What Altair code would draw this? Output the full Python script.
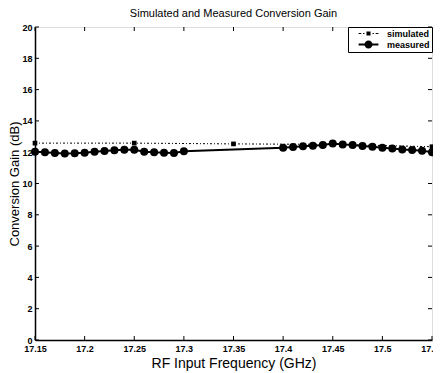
import altair as alt
import pandas as pd

# ---- data ----
meas_freq = [17.15, 17.16, 17.17, 17.18, 17.19, 17.20, 17.21, 17.22, 17.23, 17.24,
             17.25, 17.26, 17.27, 17.28, 17.29, 17.30,
             17.40, 17.41, 17.42, 17.43, 17.44, 17.45, 17.46, 17.47, 17.48, 17.49,
             17.50, 17.51, 17.52, 17.53, 17.54, 17.55]
meas_gain = [12.03, 12.00, 11.95, 11.91, 11.93, 11.97, 12.03, 12.08, 12.12, 12.15,
             12.15, 12.03, 11.99, 11.97, 11.95, 12.06,
             12.29, 12.33, 12.38, 12.42, 12.46, 12.55, 12.50, 12.46, 12.40, 12.35,
             12.29, 12.23, 12.18, 12.14, 12.10, 12.00]
sim_freq = [17.15, 17.25, 17.35, 17.45, 17.55]
sim_gain = [12.58, 12.58, 12.53, 12.50, 12.35]

x_ticks = [17.15, 17.2, 17.25, 17.3, 17.35, 17.4, 17.45, 17.5, 17.55]
y_ticks = [0, 2, 4, 6, 8, 10, 12, 14, 16, 18, 20]
series_names = ["simulated", "measured"]

W, H = 397, 313
FONT = "Liberation Sans"

meas = pd.DataFrame({"f": meas_freq, "g": meas_gain})
sim = pd.DataFrame({"f": sim_freq, "g": sim_gain})
xt = pd.DataFrame({"f": x_ticks})
yt = pd.DataFrame({"g": y_ticks})
leg = pd.DataFrame({"s": series_names})

xs = alt.Scale(domain=[17.15, 17.55], nice=False, zero=False)
ys = alt.Scale(domain=[0, 20], nice=False, zero=False)

xax = alt.Axis(values=x_ticks, title="RF Input Frequency (GHz)", grid=False,
               ticks=False, tickSize=0, labelPadding=4, labelFontSize=9,
               labelFontWeight="bold", labelFont=FONT, labelColor="black",
               labelBound=False, labelFlush=False, labelOverlap=False,
               format=".2~f",
               titleFontSize=14, titleFont=FONT, titleFontWeight="normal",
               titleColor="black", titlePadding=3,
               domainColor="black", domainWidth=1.5)
yax = alt.Axis(values=y_ticks, title="Conversion Gain (dB)", grid=False,
               ticks=False, tickSize=0, labelPadding=3, labelFontSize=9,
               labelFontWeight="bold", labelFont=FONT, labelColor="black",
               labelOverlap=False, labelBound=False, labelFlush=False,
               titleFontSize=13, titleFont=FONT, titleFontWeight="normal",
               titleColor="black", titlePadding=0,
               domainColor="black", domainWidth=1.5)

X = alt.X("f:Q", scale=xs, axis=xax)
Y = alt.Y("g:Q", scale=ys, axis=yax)

sim_line = alt.Chart(sim).mark_line(color="black", strokeWidth=1,
                                    strokeDash=[2, 2, 1, 2]).encode(x=X, y=Y)
sim_pts = alt.Chart(sim).mark_point(shape="square", filled=True, color="black",
                                    size=22, opacity=1).encode(x=X, y=Y)
meas_line = alt.Chart(meas).mark_line(color="black", strokeWidth=2).encode(x=X, y=Y)
meas_pts = alt.Chart(meas).mark_circle(color="black", size=64, opacity=1).encode(x=X, y=Y)

# legend symbols (unit = 4.5 px for symbolSize 81)
path_sim = ("M-2.2,-0.13H-1.6V0.13H-2.2Z M-1.2,-0.13H-0.9V0.13H-1.2Z "
            "M-0.45,-0.45H0.45V0.45H-0.45Z "
            "M0.9,-0.13H1.2V0.13H0.9Z M1.6,-0.13H2.2V0.13H1.6Z")
path_meas = ("M-2.2,-0.22H2.2V0.22H-2.2Z "
             "M-0.9,0A0.9,0.9,0,1,1,0.9,0A0.9,0.9,0,1,1,-0.9,0Z")

legend_layer = alt.Chart(leg).transform_filter("false").mark_point(
    filled=True, color="black", opacity=1).encode(
    x=X, y=Y,
    shape=alt.Shape("s:N", scale=alt.Scale(domain=series_names, range=[path_sim, path_meas]),
                    legend=alt.Legend(title=None, orient="top-right", offset=0,
                                      strokeColor="black", fillColor="white",
                                      padding=2, rowPadding=1, symbolSize=81,
                                      symbolOffset=14,
                                      symbolFillColor="black", symbolStrokeWidth=0,
                                      symbolOpacity=1,
                                      labelFontSize=9, labelFontWeight="bold",
                                      labelFont=FONT, labelColor="black",
                                      labelOffset=14)))

tick_len = 4
bt = alt.Chart(xt).mark_rule(color="black", strokeWidth=1).encode(
    x=X, y=alt.value(H), y2=alt.value(H - tick_len))
tt = alt.Chart(xt).mark_rule(color="black", strokeWidth=1).encode(
    x=X, y=alt.value(0), y2=alt.value(tick_len))
lt = alt.Chart(yt).mark_rule(color="black", strokeWidth=1).encode(
    y=Y, x=alt.value(0), x2=alt.value(tick_len))
rt = alt.Chart(yt).mark_rule(color="black", strokeWidth=1).encode(
    y=Y, x=alt.value(W), x2=alt.value(W - tick_len))

chart = alt.layer(sim_line, sim_pts, meas_line, meas_pts, legend_layer, bt, tt, lt, rt).properties(
    width=W, height=H,
    autosize=alt.AutoSizeParams(type="none"),
    padding={"left": 27, "top": 19, "right": 1, "bottom": 33},
    title=alt.TitleParams("Simulated and Measured Conversion Gain", fontSize=11,
                          font=FONT, fontWeight="normal", color="black",
                          anchor="middle", offset=4),
).configure_view(stroke="black", strokeWidth=1).configure(background="white")

chart.save("out.html", embed_options={"renderer": "svg", "actions": False})
